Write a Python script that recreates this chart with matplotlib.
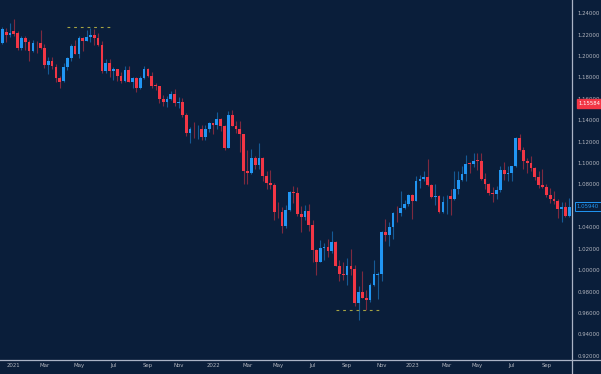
import matplotlib
matplotlib.use("Agg")
import matplotlib.pyplot as plt
import matplotlib.transforms as mtransforms
from matplotlib.lines import Line2D
import numpy as np
import pandas as pd

# weekly EURUSD candles, first week 2020-12-14
first_week = "2020-12-14"
opens = [1.2120, 1.2225, 1.2195, 1.2235, 1.2215, 1.2080, 1.2165, 1.2130, 1.2045, 1.2125,
         1.2125, 1.2075, 1.1915, 1.1950, 1.1900, 1.1795, 1.1765, 1.1900, 1.1985, 1.2090,
         1.2020, 1.2165, 1.2145, 1.2180, 1.2195, 1.2165, 1.2105, 1.1865, 1.1935, 1.1865,
         1.1875, 1.1810, 1.1770, 1.1870, 1.1760, 1.1795, 1.1700, 1.1795, 1.1880, 1.1815,
         1.1725, 1.1720, 1.1595, 1.1570, 1.1600, 1.1645, 1.1560, 1.1570, 1.1445, 1.1285,
         1.1320, 1.1315, 1.1318, 1.1240, 1.1320, 1.1370, 1.1360, 1.1410, 1.1345, 1.1145,
         1.1450, 1.1350, 1.1320, 1.1270, 1.0930, 1.0910, 1.1050, 1.0980, 1.1045, 1.0875,
         1.0810, 1.0795, 1.0545, 1.0540, 1.0410, 1.0560, 1.0730, 1.0720, 1.0520, 1.0495,
         1.0555, 1.0425, 1.0185, 1.0080, 1.0210, 1.0220, 1.0180, 1.0260, 1.0040, 0.9965,
         0.9955, 1.0040, 1.0015, 0.9690, 0.9800, 0.9740, 0.9720, 0.9860, 0.9950, 0.9962,
         1.0355, 1.0325, 1.0400, 1.0535, 1.0530, 1.0585, 1.0620, 1.0705, 1.0645, 1.0830,
         1.0855, 1.0870, 1.0795, 1.0680, 1.0695, 1.0545, 1.0635, 1.0690, 1.0665, 1.0760,
         1.0840, 1.0900, 1.1000, 1.0990, 1.1030, 1.1020, 1.0850, 1.0805, 1.0720, 1.0710,
         1.0750, 1.0940, 1.0895, 1.0910, 1.0970, 1.1230, 1.1125, 1.1015, 1.1005, 1.0950,
         1.0870, 1.0795, 1.0775, 1.0700, 1.0660, 1.0645, 1.0575, 1.0590, 1.0510]
highs = [1.2275, 1.2260, 1.2310, 1.2350, 1.2230, 1.2190, 1.2190, 1.2150, 1.2150, 1.2145,
         1.2245, 1.2115, 1.1990, 1.1990, 1.1930, 1.1810, 1.1935, 1.1995, 1.2115, 1.2150,
         1.2185, 1.2180, 1.2245, 1.2265, 1.2255, 1.2220, 1.2145, 1.1975, 1.1975, 1.1895,
         1.1880, 1.1850, 1.1910, 1.1910, 1.1800, 1.1805, 1.1810, 1.1910, 1.1885, 1.1850,
         1.1750, 1.1725, 1.1640, 1.1625, 1.1670, 1.1690, 1.1615, 1.1610, 1.1465, 1.1335,
         1.1385, 1.1355, 1.1360, 1.1360, 1.1385, 1.1375, 1.1480, 1.1420, 1.1360, 1.1485,
         1.1495, 1.1395, 1.1390, 1.1275, 1.1120, 1.1135, 1.1070, 1.1185, 1.1055, 1.0925,
         1.0935, 1.0810, 1.0640, 1.0590, 1.0605, 1.0735, 1.0785, 1.0775, 1.0600, 1.0605,
         1.0615, 1.0465, 1.0200, 1.0280, 1.0255, 1.0295, 1.0370, 1.0270, 1.0090, 1.0080,
         1.0110, 1.0200, 1.0050, 0.9855, 0.9995, 0.9810, 0.9875, 1.0095, 0.9980, 1.0365,
         1.0480, 1.0450, 1.0545, 1.0595, 1.0735, 1.0655, 1.0715, 1.0710, 1.0875, 1.0890,
         1.0930, 1.1035, 1.0805, 1.0805, 1.0700, 1.0695, 1.0700, 1.0760, 1.0930, 1.0925,
         1.0975, 1.1075, 1.1010, 1.1095, 1.1095, 1.1090, 1.0905, 1.0815, 1.0780, 1.0785,
         1.0970, 1.1010, 1.0975, 1.0975, 1.1245, 1.1275, 1.1150, 1.1045, 1.1065, 1.0965,
         1.0930, 1.0945, 1.0800, 1.0770, 1.0735, 1.0660, 1.0640, 1.0640, 1.0670]
lows = [1.2110, 1.2130, 1.2180, 1.2190, 1.2055, 1.2055, 1.2055, 1.1950, 1.2040, 1.2025,
        1.2065, 1.1890, 1.1835, 1.1875, 1.1760, 1.1705, 1.1760, 1.1870, 1.1950, 1.2015,
        1.1985, 1.2050, 1.2145, 1.2130, 1.2100, 1.2090, 1.1845, 1.1845, 1.1805, 1.1780,
        1.1770, 1.1750, 1.1755, 1.1755, 1.1705, 1.1665, 1.1695, 1.1790, 1.1800, 1.1700,
        1.1685, 1.1565, 1.1530, 1.1525, 1.1585, 1.1535, 1.1515, 1.1430, 1.1250, 1.1185,
        1.1235, 1.1225, 1.1220, 1.1220, 1.1290, 1.1270, 1.1315, 1.1300, 1.1120, 1.1140,
        1.1345, 1.1280, 1.1105, 1.0805, 1.0805, 1.0900, 1.0945, 1.0945, 1.0835, 1.0760,
        1.0760, 1.0470, 1.0490, 1.0350, 1.0390, 1.0550, 1.0630, 1.0510, 1.0360, 1.0470,
        1.0365, 1.0075, 0.9950, 1.0075, 1.0095, 1.0125, 1.0160, 1.0035, 0.9900, 0.9910,
        0.9865, 0.9955, 0.9665, 0.9535, 0.9735, 0.9630, 0.9705, 0.9850, 0.9730, 0.9900,
        1.0270, 1.0225, 1.0290, 1.0445, 1.0510, 1.0575, 1.0600, 1.0480, 1.0645, 1.0765,
        1.0835, 1.0790, 1.0670, 1.0610, 1.0535, 1.0530, 1.0525, 1.0515, 1.0655, 1.0715,
        1.0830, 1.0830, 1.0910, 1.0965, 1.0940, 1.0845, 1.0760, 1.0705, 1.0635, 1.0665,
        1.0730, 1.0845, 1.0835, 1.0835, 1.0960, 1.1110, 1.0945, 1.0910, 1.0925, 1.0845,
        1.0765, 1.0770, 1.0685, 1.0630, 1.0615, 1.0490, 1.0450, 1.0495, 1.0495]
closes = [1.2255, 1.2195, 1.2220, 1.2210, 1.2080, 1.2170, 1.2135, 1.2045, 1.2120, 1.2120,
          1.2075, 1.1915, 1.1950, 1.1905, 1.1795, 1.1760, 1.1900, 1.1985, 1.2095, 1.2020,
          1.2165, 1.2145, 1.2180, 1.2195, 1.2165, 1.2105, 1.1865, 1.1935, 1.1865, 1.1875,
          1.1810, 1.1770, 1.1870, 1.1760, 1.1795, 1.1700, 1.1795, 1.1880, 1.1815, 1.1725,
          1.1720, 1.1595, 1.1570, 1.1600, 1.1645, 1.1560, 1.1570, 1.1445, 1.1285, 1.1320,
          1.1315, 1.1318, 1.1240, 1.1320, 1.1370, 1.1360, 1.1410, 1.1345, 1.1145, 1.1450,
          1.1350, 1.1320, 1.1270, 1.0930, 1.0910, 1.1050, 1.0980, 1.1045, 1.0875, 1.0810,
          1.0795, 1.0545, 1.0540, 1.0410, 1.0560, 1.0730, 1.0720, 1.0520, 1.0495, 1.0555,
          1.0425, 1.0185, 1.0080, 1.0210, 1.0220, 1.0180, 1.0260, 1.0040, 0.9965, 0.9955,
          1.0040, 1.0015, 0.9690, 0.9800, 0.9740, 0.9720, 0.9860, 0.9965, 0.9962, 1.0355,
          1.0325, 1.0400, 1.0535, 1.0530, 1.0585, 1.0620, 1.0705, 1.0645, 1.0830, 1.0855,
          1.0870, 1.0795, 1.0680, 1.0695, 1.0545, 1.0635, 1.0640, 1.0665, 1.0760, 1.0840,
          1.0900, 1.0990, 1.0990, 1.1015, 1.1020, 1.0850, 1.0805, 1.0720, 1.0710, 1.0750,
          1.0940, 1.0895, 1.0910, 1.0970, 1.1230, 1.1125, 1.1015, 1.1005, 1.0950, 1.0870,
          1.0795, 1.0775, 1.0700, 1.0660, 1.0645, 1.0575, 1.0590, 1.0510, 1.0594]

y_ticks = [0.92, 0.94, 0.96, 0.98, 1.00, 1.02, 1.04, 1.06, 1.08, 1.10,
           1.12, 1.14, 1.16, 1.18, 1.20, 1.22, 1.24]
tick_months = [1, 3, 5, 7, 9, 11]

# dashed levels: price, start week, end week
level_prices = [1.2269, 0.9627]
level_start = ["2021-04-12", "2022-08-15"]
level_end = ["2021-07-05", "2022-11-07"]

marker_price = 1.15584
last_price = 1.05940

bg = "#0a1e3a"
up_col = "#2196f3"
dn_col = "#f23645"
axis_col = "#aab3c5"
text_col = "#b2b5be"

o = np.array(opens)
h = np.array(highs)
l = np.array(lows)
c = np.array(closes)
n = len(c)
dates = pd.date_range(first_week, periods=n, freq="W-MON")
idx = np.arange(n)
up = c >= o
colors = np.where(up, up_col, dn_col)

fig = plt.figure(figsize=(6.01, 3.74), dpi=100, facecolor=bg)
ax = fig.add_axes([0, 14 / 374, 572 / 601, 360 / 374])
ax.set_facecolor(bg)

ax.vlines(idx, l, h, colors=colors, linewidth=0.8, alpha=0.5, zorder=2)
body_h = np.maximum(np.abs(c - o), 0.0006)
ax.bar(idx, body_h, bottom=np.minimum(o, c), width=0.72, color=colors,
       linewidth=0, zorder=3)

for p, s, e in zip(level_prices, level_start, level_end):
    xs = dates.get_loc(pd.Timestamp(s))
    xe = dates.get_loc(pd.Timestamp(e))
    ax.plot([xs, xe], [p, p], color="#a6a444", linewidth=0.8,
            linestyle=(0, (2.5, 3.5)), zorder=4)

ax.set_xlim(-0.6, 148.7)
ax.set_ylim(0.9160, 1.2524)

# x ticks at first week of every other month
tick_pos = []
tick_lab = []
for i, d in enumerate(dates):
    if i > 0 and d.month == dates[i - 1].month:
        continue
    if d.month in tick_months:
        tick_pos.append(i)
        tick_lab.append(str(d.year) if d.month == 1 else d.strftime("%b"))
ax.set_xticks(tick_pos)
ax.set_xticklabels(tick_lab)

ax.yaxis.tick_right()
ax.set_yticks(y_ticks)
ax.set_yticklabels([f"{v:.5f}" for v in y_ticks])
ax.tick_params(axis="both", length=0, colors=text_col, labelsize=3.9)
ax.tick_params(axis="y", pad=4)
ax.tick_params(axis="x", pad=2.5)
for sp in ax.spines.values():
    sp.set_visible(False)

# axis lines across the figure
fig.add_artist(Line2D([0, 1], [14 / 374, 14 / 374], color=axis_col, linewidth=0.9))
fig.add_artist(Line2D([572 / 601, 572 / 601], [0, 1], color=axis_col, linewidth=0.9))

trans = mtransforms.blended_transform_factory(ax.transAxes, ax.transData)
ax.text(1.012, marker_price, f"{marker_price:.5f}", transform=trans, ha="left",
        va="center", fontsize=3.9, color="white", clip_on=False,
        bbox=dict(boxstyle="square,pad=0.35", facecolor=dn_col, edgecolor=dn_col))
ax.text(1.008, last_price, f"{last_price:.5f}", transform=trans, ha="left",
        va="center", fontsize=3.9, color=up_col, clip_on=False,
        bbox=dict(boxstyle="square,pad=0.35", facecolor=bg, edgecolor=up_col,
                  linewidth=0.7))

fig.savefig("out.png", dpi=100, facecolor=bg)
